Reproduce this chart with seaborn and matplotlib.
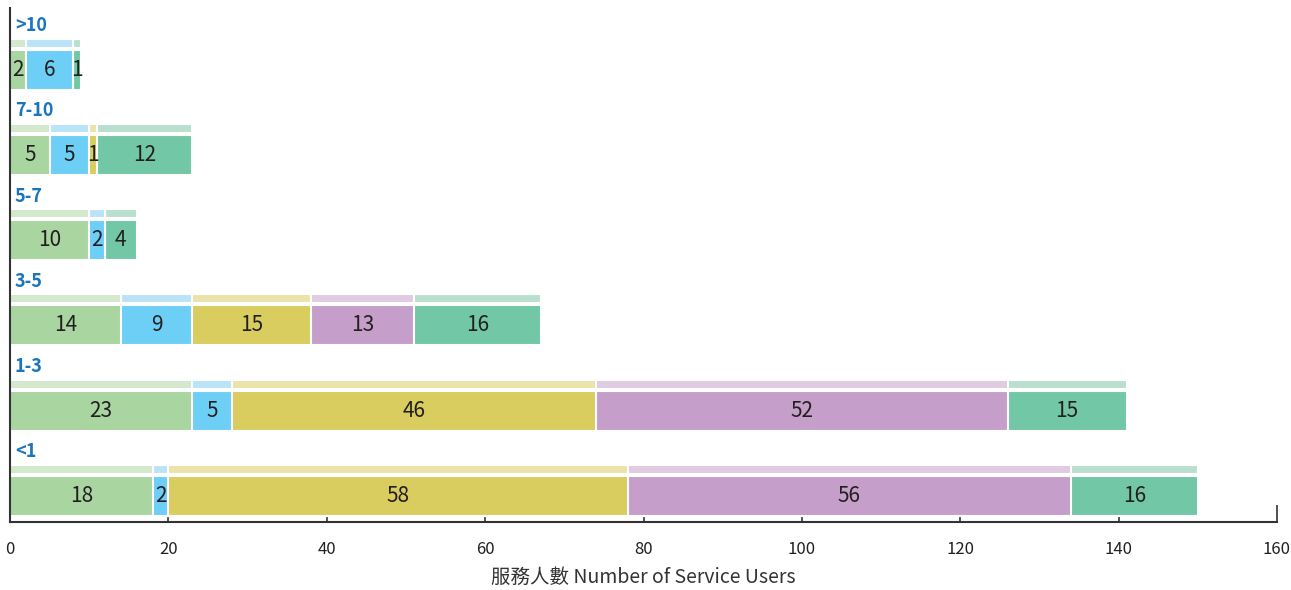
import matplotlib
matplotlib.use("Agg")
import matplotlib.pyplot as plt
import numpy as np
import pandas as pd
import seaborn as sns

# Duration groups (bottom to top) and service-user counts per segment
categories = ["<1", "1-3", "3-5", "5-7", "7-10", ">10"]
series_green = [18, 23, 14, 10, 5, 2]
series_blue = [2, 5, 9, 2, 5, 6]
series_yellow = [58, 46, 15, 0, 1, 0]
series_purple = [56, 52, 13, 0, 0, 0]
series_teal = [16, 15, 16, 4, 12, 1]
x_ticks = [0, 20, 40, 60, 80, 100, 120, 140, 160]
x_label = "服務人數 Number of Service Users"

series = [series_green, series_blue, series_yellow, series_purple, series_teal]
main_colors = ["#a9d5a0", "#6dcff6", "#d8cd5e", "#c59fc9", "#72c7a6"]
strip_colors = ["#d3e8cd", "#b9e4f8", "#ebe3aa", "#e0cbe2", "#b9e0cf"]

sns.set_theme(style="white")
plt.rcParams["font.family"] = ["Noto Sans CJK TC", "DejaVu Sans"]

fig = plt.figure(figsize=(12.91, 5.90), dpi=100)
ax = fig.add_axes([10 / 1291, 68 / 590, 1267 / 1291, 514 / 590])

rows = np.arange(len(categories), dtype=float)
strip_offset = 0.312
values = np.array(series, dtype=float)
cum = np.cumsum(values, axis=0)

# Draw cumulative totals back to front so each segment shows its own span
for k in range(len(series) - 1, -1, -1):
    df_main = pd.DataFrame({"value": cum[k], "row": rows})
    sns.barplot(data=df_main, x="value", y="row", orient="h", native_scale=True,
                color=main_colors[k], saturation=1, width=0.47,
                edgecolor="white", linewidth=1.5, ax=ax)
    df_strip = pd.DataFrame({"value": cum[k], "row": rows + strip_offset})
    sns.barplot(data=df_strip, x="value", y="row", orient="h", native_scale=True,
                color=strip_colors[k], saturation=1, width=0.106,
                edgecolor="white", linewidth=1.5, ax=ax)

# Segment value labels
for k in range(len(series)):
    for i in range(len(categories)):
        v = values[k, i]
        if v <= 0:
            continue
        center = cum[k, i] - v / 2
        ax.text(center, rows[i], f"{int(v)}", ha="center", va="center",
                fontsize=15, fontweight="light", color="#231f20")

# Group labels above each bar
for i, cat in enumerate(categories):
    ax.text(0.6, rows[i] + 0.518, cat, ha="left", va="center", fontsize=13,
            fontweight="semibold", color="#1a75bc")

ax.set_xlim(0, 160)
ax.set_ylim(-0.306, 5.724)
ax.set_xticks(x_ticks)
ax.set_xticklabels([str(t) for t in x_ticks], fontsize=12, color="#231f20")
ax.set_yticks([])
ax.set_ylabel("")
ax.set_xlabel(x_label, fontsize=14, fontweight="light", color="#333333",
              labelpad=6)
ax.tick_params(axis="x", direction="in", length=12, width=1.2, color="#333333",
               bottom=True, pad=14)
for side in ["top", "right"]:
    ax.spines[side].set_visible(False)
for side in ["left", "bottom"]:
    ax.spines[side].set_color("#333333")
    ax.spines[side].set_linewidth(1.5)

fig.savefig("out.png", dpi=100)
